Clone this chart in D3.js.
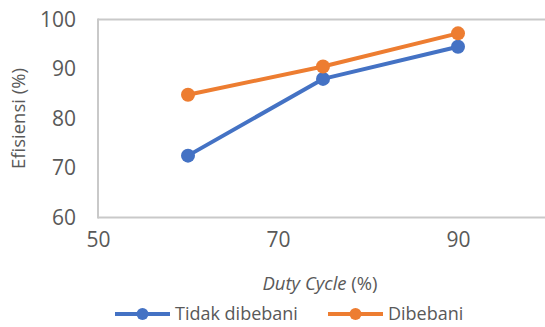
<!DOCTYPE html>
<html>
<head>
<meta charset="utf-8">
<script src="https://cdn.jsdelivr.net/npm/d3@7/dist/d3.min.js"></script>
<style>
  html, body { margin: 0; padding: 0; background: #fff; }
  svg { display: block; font-family: "Open Sans", sans-serif; }
</style>
</head>
<body>
<svg id="chart" width="545" height="327"></svg>
<script>
// Duty cycle (%) on the x axis
const dutyCycle = [60, 75, 90];
// Efficiency (%) for each load condition
const tidakDibebani = [72.5, 88.0, 94.5];
const dibebani = [84.8, 90.5, 97.2];
const seriesNames = ["Tidak dibebani", "Dibebani"];
const seriesColors = ["#4472C4", "#ED7D31"];
const xTicks = [50, 70, 90];
const yTicks = [60, 70, 80, 90, 100];

const svg = d3.select("#chart");
const textColor = "#595959";
const frameColor = "#c9c9c9";

const plot = { left: 98, top: 19.5, bottom: 217.5, right: 548 };

const x = d3.scaleLinear().domain([50, 100]).range([plot.left, plot.right]);
const y = d3.scaleLinear().domain([60, 100]).range([plot.bottom, plot.top]);

// Frame: left, top and bottom edges of the plot area
const frame = svg.append("g").attr("stroke", frameColor).attr("stroke-width", 2).attr("fill", "none");
frame.append("line").attr("x1", plot.left).attr("x2", plot.right).attr("y1", y(100)).attr("y2", y(100));
frame.append("line").attr("x1", plot.left).attr("x2", plot.right).attr("y1", y(60)).attr("y2", y(60));
frame.append("line").attr("x1", plot.left).attr("x2", plot.left).attr("y1", y(100) - 1).attr("y2", y(60) + 1);

// Y axis tick labels
const yAxis = d3.axisLeft(y).tickValues(yTicks).tickSize(0).tickPadding(22);
const gy = svg.append("g").attr("transform", `translate(${plot.left},0)`).call(yAxis);
gy.select(".domain").remove();
gy.selectAll("text").attr("fill", textColor).attr("font-size", 21).attr("font-family", "Open Sans");

// X axis tick labels
const xAxis = d3.axisBottom(x).tickValues(xTicks).tickSize(0).tickPadding(15);
const gx = svg.append("g").attr("transform", `translate(0,${plot.bottom})`).call(xAxis);
gx.select(".domain").remove();
gx.selectAll("text").attr("fill", textColor).attr("font-size", 21).attr("font-family", "Open Sans");

// Axis titles
svg.append("text")
  .attr("transform", `translate(25,${(plot.top + plot.bottom) / 2}) rotate(-90)`)
  .attr("text-anchor", "middle")
  .attr("fill", textColor).attr("font-size", 18.5)
  .text("Efisiensi (%)");

const xt = svg.append("text")
  .attr("x", 320).attr("y", 290)
  .attr("text-anchor", "middle")
  .attr("fill", textColor).attr("font-size", 18.5);
xt.append("tspan").attr("font-style", "italic").text("Duty Cycle");
xt.append("tspan").text(" (%)");

// Series lines and markers
const seriesData = [tidakDibebani, dibebani];
const line = d3.line().x((d, i) => x(dutyCycle[i])).y(d => y(d));

seriesData.forEach((vals, si) => {
  const g = svg.append("g");
  g.append("path")
    .datum(vals)
    .attr("d", line)
    .attr("fill", "none")
    .attr("stroke", seriesColors[si])
    .attr("stroke-width", 4)
    .attr("stroke-linejoin", "round");
  g.selectAll("circle")
    .data(vals)
    .join("circle")
    .attr("cx", (d, i) => x(dutyCycle[i]))
    .attr("cy", d => y(d))
    .attr("r", 7)
    .attr("fill", seriesColors[si]);
});

// Legend
const legendItems = [
  { x: 115, name: seriesNames[0], color: seriesColors[0] },
  { x: 328, name: seriesNames[1], color: seriesColors[1] }
];
const legend = svg.append("g");
legendItems.forEach(it => {
  const gi = legend.append("g").attr("transform", `translate(${it.x},314)`);
  gi.append("line").attr("x1", 0).attr("x2", 55).attr("y1", 0).attr("y2", 0)
    .attr("stroke", it.color).attr("stroke-width", 4);
  gi.append("circle").attr("cx", 27.5).attr("cy", 0).attr("r", 6).attr("fill", it.color);
  gi.append("text").attr("x", 60).attr("y", 0).attr("dy", "0.35em")
    .attr("fill", textColor).attr("font-size", 18).text(it.name);
});
</script>
</body>
</html>
